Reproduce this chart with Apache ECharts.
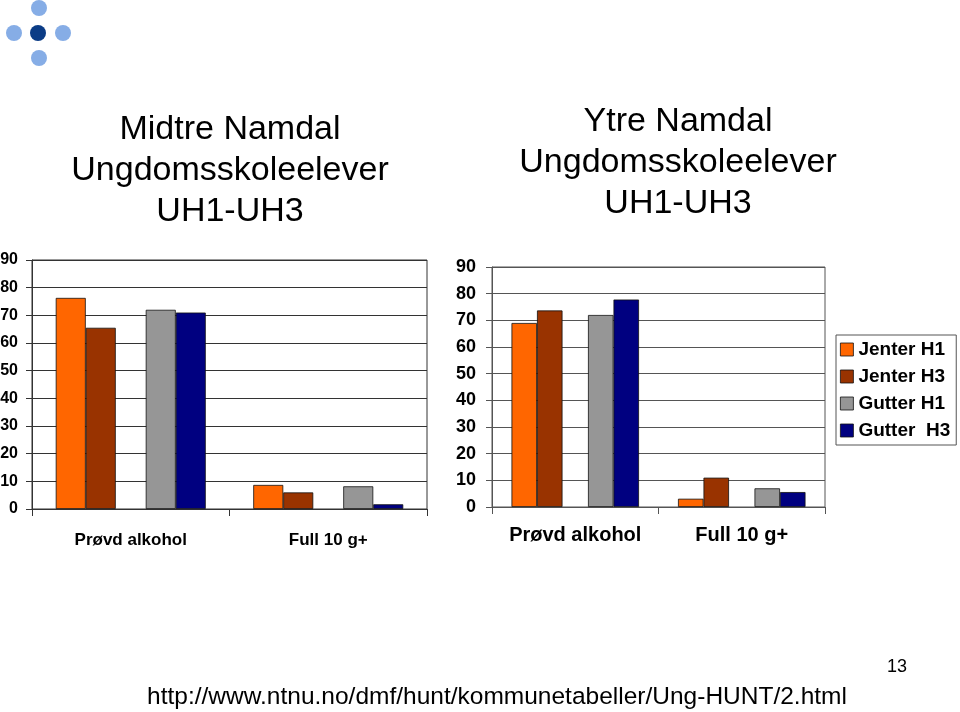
<!DOCTYPE html>
<html>
<head>
<meta charset="utf-8">
<script src="https://cdn.jsdelivr.net/npm/echarts@6/dist/echarts.min.js"></script>
<style>
html,body{margin:0;padding:0;background:#fff;}
#c{width:960px;height:712px;}
</style>
</head>
<body>
<div id="c"></div>
<script>
// ---- data ----
const categories = ['Prøvd alkohol', 'Full 10 g+'];
const seriesNames = ['Jenter H1', 'Jenter H3', 'Gutter H1', 'Gutter  H3'];
const yTicks = [0, 10, 20, 30, 40, 50, 60, 70, 80, 90];

// Midtre Namdal
const midtreJenterH1 = [76.3, 8.7];
const midtreJenterH3 = [65.5, 6.0];
const midtreGutterH1 = [72.0, 8.2];
const midtreGutterH3 = [71.0, 1.7];

// Ytre Namdal
const ytreJenterH1 = [69.0, 3.1];
const ytreJenterH3 = [73.7, 11.0];
const ytreGutterH1 = [72.0, 7.0];
const ytreGutterH3 = [77.8, 5.6];

const spacer = [null, null]; // empty slot between girls and boys

const titleLeft = 'Midtre Namdal\nUngdomsskoleelever\nUH1-UH3';
const titleRight = 'Ytre Namdal\nUngdomsskoleelever\nUH1-UH3';
const footer = 'http://www.ntnu.no/dmf/hunt/kommunetabeller/Ung-HUNT/2.html';
const pageNo = '13';

// ---- styling ----
const FONT = "'Liberation Sans', Arial, Helvetica, sans-serif";
const colors = ['#FF6600', '#993300', '#969696', '#000080'];

const chart = echarts.init(document.getElementById('c'), null, {renderer: 'canvas'});

function bars(gridIdx, arrays, width) {
  const out = [];
  const order = [0, 1, -1, 2, 3];
  order.forEach(function (k) {
    if (k === -1) {
      out.push({
        type: 'bar', name: '_spacer', xAxisIndex: gridIdx, yAxisIndex: gridIdx,
        data: spacer, barWidth: width, barGap: '0%', silent: true,
        itemStyle: {color: 'transparent'}
      });
    } else {
      out.push({
        type: 'bar', name: seriesNames[k], xAxisIndex: gridIdx, yAxisIndex: gridIdx,
        data: arrays[k], barWidth: width, barGap: '0%',
        itemStyle: {color: colors[k], borderColor: '#111', borderWidth: 0.8},
        emphasis: {disabled: true}
      });
    }
  });
  return out;
}

function xAxis(gridIdx, fs, margin, lineColor) {
  return {
    type: 'category', gridIndex: gridIdx, data: categories,
    axisLine: {show: true, lineStyle: {color: lineColor, width: 1}},
    axisTick: {show: true, length: 7, alignWithLabel: false, lineStyle: {color: lineColor}},
    axisLabel: {fontFamily: FONT, fontWeight: 'bold', fontSize: fs, color: '#000', margin: margin, interval: 0},
    splitLine: {show: false}
  };
}

function yAxis(gridIdx, fs, margin, lineColor, gridColor) {
  return {
    type: 'value', gridIndex: gridIdx, min: yTicks[0], max: yTicks[yTicks.length - 1], interval: 10,
    axisLine: {show: true, lineStyle: {color: lineColor, width: 1}},
    axisTick: {show: true, length: 6, lineStyle: {color: lineColor}},
    axisLabel: {fontFamily: FONT, fontWeight: 'bold', fontSize: fs, color: '#000', margin: margin},
    splitLine: {show: true, lineStyle: {color: gridColor, width: 1}}
  };
}

const option = {
  backgroundColor: '#ffffff',
  animation: false,
  title: [
    {text: titleLeft, left: 230, top: 109, textAlign: 'center', padding: 0,
     textStyle: {fontFamily: FONT, fontWeight: 'normal', fontSize: 34, lineHeight: 41, color: '#000'}},
    {text: titleRight, left: 678, top: 101, textAlign: 'center', padding: 0,
     textStyle: {fontFamily: FONT, fontWeight: 'normal', fontSize: 34, lineHeight: 41, color: '#000'}}
  ],
  legend: {
    data: seriesNames, orient: 'vertical', left: 836, top: 335,
    padding: [5, 6, 5, 4], itemWidth: 13, itemHeight: 13, itemGap: 8,
    borderColor: '#555', borderWidth: 1, backgroundColor: '#fff',
    icon: 'rect', selectedMode: false,
    itemStyle: {borderColor: '#111', borderWidth: 0.8},
    textStyle: {fontFamily: FONT, fontWeight: 'bold', fontSize: 19, lineHeight: 18.5, color: '#000', padding: [0, 0, 0, 0]}
  },
  grid: [
    {left: 32, top: 260, width: 395, height: 249, show: true, borderColor: '#333', borderWidth: 1,
     backgroundColor: 'transparent', containLabel: false, outerBoundsMode: 'none'},
    {left: 492, top: 267, width: 333, height: 240, show: true, borderColor: '#555', borderWidth: 1,
     backgroundColor: 'transparent', containLabel: false, outerBoundsMode: 'none'}
  ],
  xAxis: [xAxis(0, 17, 23, '#333'), xAxis(1, 20, 18, '#555')],
  yAxis: [yAxis(0, 16, 14, '#333', '#333'), yAxis(1, 18, 16, '#555', '#555')],
  series: [].concat(
    bars(0, [midtreJenterH1, midtreJenterH3, midtreGutterH1, midtreGutterH3], 30),
    bars(1, [ytreJenterH1, ytreJenterH3, ytreGutterH1, ytreGutterH3], 25.5)
  ),
  graphic: [
    // logo
    {type: 'circle', shape: {cx: 39, cy: 8, r: 8}, style: {fill: '#86ADE6'}},
    {type: 'circle', shape: {cx: 14, cy: 33, r: 8}, style: {fill: '#86ADE6'}},
    {type: 'circle', shape: {cx: 63, cy: 33, r: 8}, style: {fill: '#86ADE6'}},
    {type: 'circle', shape: {cx: 39, cy: 58, r: 8}, style: {fill: '#86ADE6'}},
    {type: 'circle', shape: {cx: 38, cy: 33, r: 8}, style: {fill: '#0B3C86'}},
    // footer
    {type: 'text', x: 497, y: 697, style: {text: footer, fontFamily: FONT, fontSize: 24.5, fill: '#000', textAlign: 'center', textVerticalAlign: 'middle'}},
    {type: 'text', x: 897, y: 667, style: {text: pageNo, fontFamily: FONT, fontSize: 18, fill: '#000', textAlign: 'center', textVerticalAlign: 'middle'}}
  ]
};

chart.setOption(option);
</script>
</body>
</html>
